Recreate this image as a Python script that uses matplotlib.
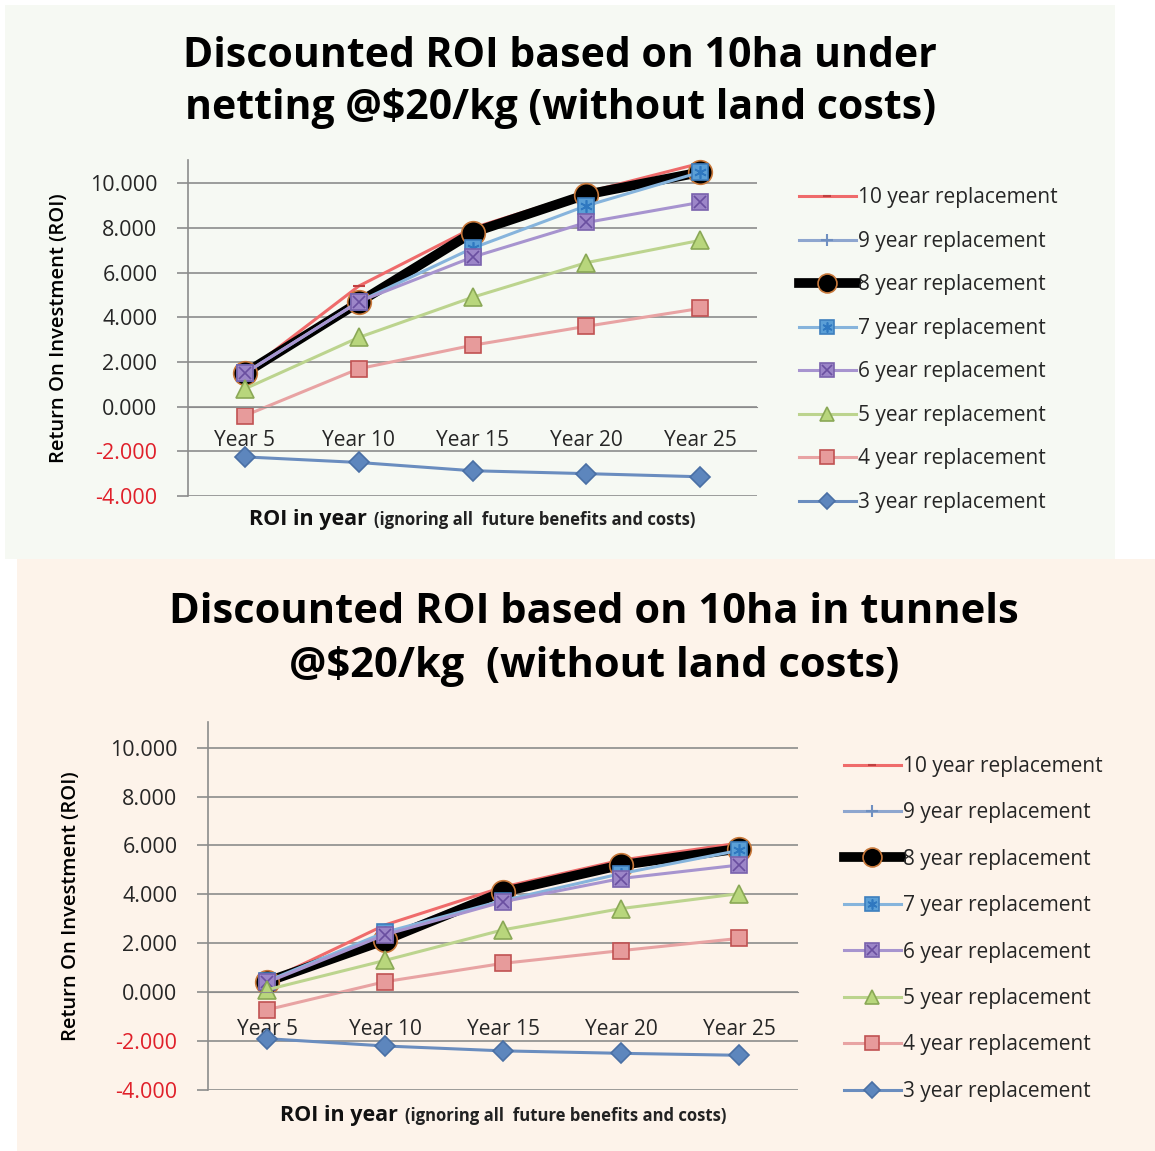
import numpy as np
import matplotlib
matplotlib.use("Agg")
import matplotlib.pyplot as plt
from matplotlib.patches import Rectangle
from matplotlib.offsetbox import TextArea, HPacker, AnchoredOffsetbox

plt.rcParams['font.family'] = ['Open Sans', 'DejaVu Sans']

years = ['Year 5', 'Year 10', 'Year 15', 'Year 20', 'Year 25']
labels = ['10 year replacement', '9 year replacement', '8 year replacement',
          '7 year replacement', '6 year replacement', '5 year replacement',
          '4 year replacement', '3 year replacement']

# netting (top chart)
net_10 = [1.5, 5.4, 8.0, 9.6, 10.9]
net_9 = [1.5, 4.7, 7.9, 9.4, 10.6]
net_8 = [1.5, 4.67, 7.8, 9.5, 10.5]
net_7 = [1.5, 4.7, 7.1, 9.0, 10.5]
net_6 = [1.5, 4.7, 6.7, 8.25, 9.15]
net_5 = [0.8, 3.1, 4.9, 6.45, 7.45]
net_4 = [-0.4, 1.7, 2.75, 3.6, 4.4]
net_3 = [-2.25, -2.5, -2.87, -3.0, -3.14]

# tunnels (bottom chart)
tun_10 = [0.45, 2.75, 4.3, 5.4, 6.1]
tun_9 = [0.45, 2.3, 4.2, 5.1, 5.8]
tun_8 = [0.43, 2.13, 4.1, 5.2, 5.87]
tun_7 = [0.45, 2.45, 3.75, 4.85, 5.8]
tun_6 = [0.4, 2.35, 3.7, 4.65, 5.2]
tun_5 = [0.1, 1.3, 2.55, 3.42, 4.03]
tun_4 = [-0.72, 0.43, 1.18, 1.7, 2.2]
tun_3 = [-1.9, -2.2, -2.4, -2.5, -2.58]

yticks = [-4, -2, 0, 2, 4, 6, 8, 10]

# line, marker, face, edge, lw, ms, overlay marker, overlay colour
styles = [
    ('#ef6b6b', '_', '#ef6b6b', '#c04040', 2.2, 8, None, None),
    ('#8ea6cf', '+', '#6f8fc0', '#6f8fc0', 2.2, 11, None, None),
    ('#000000', 'o', '#000000', '#c8783a', 7.0, 17, None, None),
    ('#86b4dc', 's', '#5b9fd6', '#3e7fbe', 2.2, 12, (6, 2, 0), '#2f78c0'),
    ('#a794cf', 's', '#9c86c8', '#7a62ad', 2.2, 12, 'x', '#6a4fa0'),
    ('#bcd48e', '^', '#b8d67c', '#8aa856', 2.2, 13, None, None),
    ('#e8a3a3', 's', '#e79b9b', '#c05252', 2.2, 12, None, None),
    ('#6a8dbf', 'D', '#5d86bd', '#4a70a5', 2.2, 10, None, None),
]


def draw(ax, series, xpad):
    x = np.arange(len(years))
    # category axis crosses at zero
    ax.spines['bottom'].set_position(('data', 0))
    handles = []
    for vals, st in zip(series, styles):
        lc, mk, fc, ec, lw, ms, om, oc = st
        ln, = ax.plot(x, vals, color=lc, lw=lw, marker=mk, markersize=ms,
                      markerfacecolor=fc, markeredgecolor=ec,
                      markeredgewidth=1.2 if mk not in ('+', '_') else 1.5,
                      solid_joinstyle='round', clip_on=False)
        if om is not None:
            ov, = ax.plot(x, vals, ls='none', marker=om, markersize=ms * 0.75,
                          markeredgecolor=oc, markeredgewidth=1.2, clip_on=False)
            handles.append((ln, ov))
        else:
            handles.append(ln)
    ax.set_xlim(-0.5, 4.5)
    ax.set_ylim(-4, 11.05)
    ax.set_yticks(yticks)
    ax.set_yticklabels([f'{v:.3f}' for v in yticks], fontsize=15.5)
    for t, v in zip(ax.get_yticklabels(), yticks):
        t.set_color('#e0202a' if v < 0 else '#262626')
    ax.set_xticks(x)
    ax.set_xticklabels(years, fontsize=15, color='#262626')
    ax.tick_params(axis='x', length=0, pad=xpad)
    ax.tick_params(axis='y', length=8, width=1.2, color='#8c8c8c', pad=14)
    ax.spines['bottom'].set_color('#8c8c8c')
    ax.spines['left'].set_color('#8c8c8c')
    ax.spines['left'].set_linewidth(1.2)
    ax.spines['top'].set_visible(False)
    ax.spines['right'].set_visible(False)
    ax.yaxis.grid(True, color='#8c8c8c', lw=1.2)
    ax.set_axisbelow(True)
    ax.set_facecolor('none')
    ax.set_ylabel('Return On Investment (ROI)', fontsize=14.5, fontweight='semibold')
    # two-part x-axis title
    t1 = TextArea('ROI in year', textprops=dict(fontsize=15.5, fontweight='bold', color='#111111'))
    t2 = TextArea('(ignoring all  future benefits and costs)',
                  textprops=dict(fontsize=12, fontweight='bold', color='#222222'))
    box = HPacker(children=[t1, t2], align='baseline', pad=0, sep=5)
    anc = AnchoredOffsetbox(loc='upper center', child=box, pad=0, frameon=False,
                            bbox_to_anchor=(0.5, -0.04), bbox_transform=ax.transAxes,
                            borderpad=0)
    ax.add_artist(anc)
    return handles


fig = plt.figure(figsize=(11.55, 11.51), dpi=100)
fig.patches.append(Rectangle((0.0043, 0.5143), 0.961, 0.4814, transform=fig.transFigure,
                             facecolor='#f6f9f3', edgecolor='none', zorder=-5))
fig.patches.append(Rectangle((0.0147, 0.0), 0.9853, 0.5143, transform=fig.transFigure,
                             facecolor='#fdf3ea', edgecolor='none', zorder=-5))

ax1 = fig.add_axes([0.1628, 0.5691, 0.4926, 0.2919])
h1 = draw(ax1, [net_10, net_9, net_8, net_7, net_6, net_5, net_4, net_3], 16.5)
ax1.yaxis.set_label_coords(-0.209, 0.5)

ax2 = fig.add_axes([0.1801, 0.0530, 0.5108, 0.3197])
h2 = draw(ax2, [tun_10, tun_9, tun_8, tun_7, tun_6, tun_5, tun_4, tun_3], 19)
ax2.yaxis.set_label_coords(-0.215, 0.5)

fig.text(0.485, 0.9285, 'Discounted ROI based on 10ha under\nnetting @$20/kg (without land costs)',
         ha='center', va='center', fontsize=29.5, fontweight='bold', linespacing=1.35)
fig.text(0.514, 0.4445, 'Discounted ROI based on 10ha in tunnels\n@$20/kg  (without land costs)',
         ha='center', va='center', fontsize=30, fontweight='bold', linespacing=1.42)

fig.legend(h1, labels, loc='upper left', bbox_to_anchor=(0.683, 0.8462), frameon=False,
           fontsize=15, handlelength=2.7, handletextpad=0.12, labelspacing=1.08,
           borderpad=0, markerscale=0.8, labelcolor='#262626')
fig.legend(h2, labels, loc='upper left', bbox_to_anchor=(0.722, 0.3523), frameon=False,
           fontsize=15, handlelength=2.7, handletextpad=0.12, labelspacing=1.22,
           borderpad=0, markerscale=0.8, labelcolor='#262626')

fig.savefig('out.png', dpi=100, facecolor='white')
